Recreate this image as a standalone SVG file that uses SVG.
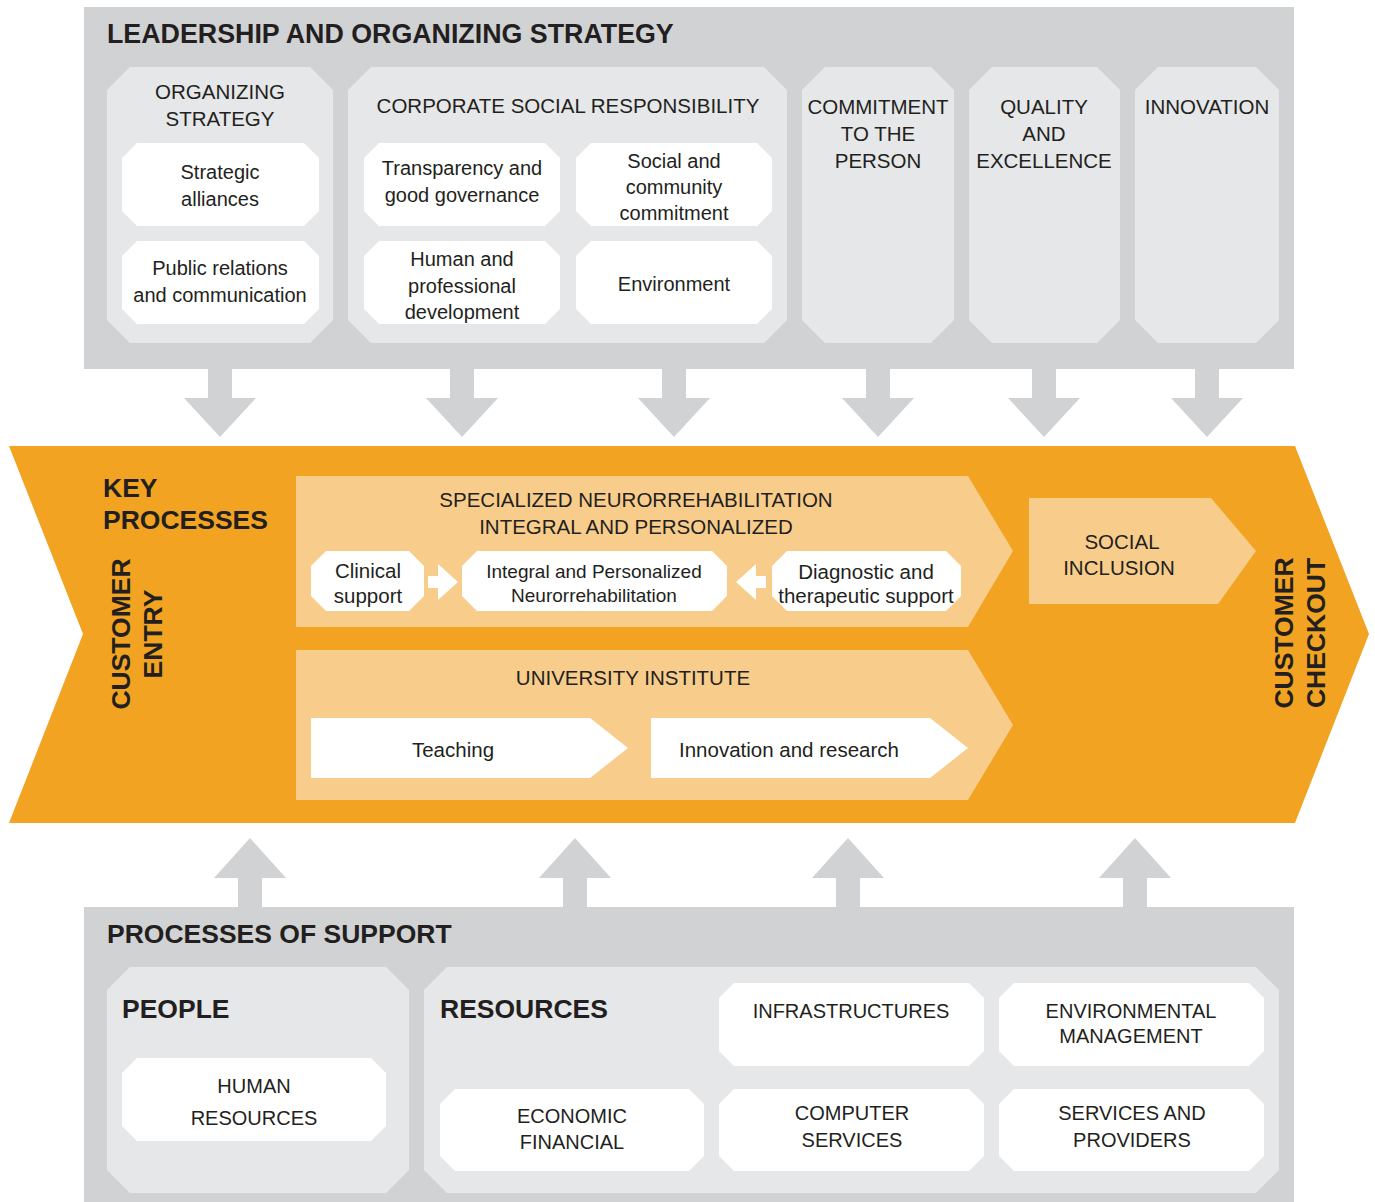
<svg xmlns="http://www.w3.org/2000/svg" width="1375" height="1202" viewBox="0 0 1375 1202">
<style>
.bg{fill:#d1d2d4}
.in{fill:#e6e7e8}
.wh{fill:#ffffff}
.or{fill:#f1a321}
.lo{fill:#f8cd8b}
.ar{fill:#d1d2d4}
text{font-family:"Liberation Sans",Arial,Helvetica,sans-serif;fill:#231f20}
.h{font-weight:bold;font-size:26.5px}
.t{font-size:20.5px;text-anchor:middle}
.s{font-size:20px;text-anchor:middle}
</style>
<rect width="1375" height="1202" fill="#ffffff"/>

<g id="leadership">
<rect class="bg" x="84" y="7" width="1210" height="362"/>
<text class="h" x="107" y="43" style="font-size:26.8px">LEADERSHIP AND ORGANIZING STRATEGY</text>
</g>

<g id="organizing-strategy">
<polygon class="in" points="130,67 310,67 333,90 333,320 310,343 130,343 107,320 107,90"/>
<text class="t" x="220" y="99">ORGANIZING</text>
<text class="t" x="220" y="126">STRATEGY</text>
</g>
<g id="strategic-alliances">
<polygon class="wh" points="137,143 304,143 319,158 319,211 304,226 137,226 122,211 122,158"/>
<text class="s" x="220" y="179">Strategic</text>
<text class="s" x="220" y="206">alliances</text>
</g>
<g id="public-relations">
<polygon class="wh" points="137,241 304,241 319,256 319,309 304,324 137,324 122,309 122,256"/>
<text class="s" x="220" y="275">Public relations</text>
<text class="s" x="220" y="302">and communication</text>
</g>

<g id="csr">
<polygon class="in" points="371,67 764,67 787,90 787,320 764,343 371,343 348,320 348,90"/>
<text class="t" x="568" y="113">CORPORATE SOCIAL RESPONSIBILITY</text>
</g>
<g id="transparency">
<polygon class="wh" points="379,143 545,143 560,158 560,211 545,226 379,226 364,211 364,158"/>
<text class="s" x="462" y="175">Transparency and</text>
<text class="s" x="462" y="202">good governance</text>
</g>
<g id="social-community">
<polygon class="wh" points="591,143 757,143 772,158 772,211 757,226 591,226 576,211 576,158"/>
<text class="s" x="674" y="168">Social and</text>
<text class="s" x="674" y="194">community</text>
<text class="s" x="674" y="220">commitment</text>
</g>
<g id="human-development">
<polygon class="wh" points="379,241 545,241 560,256 560,309 545,324 379,324 364,309 364,256"/>
<text class="s" x="462" y="266">Human and</text>
<text class="s" x="462" y="293">professional</text>
<text class="s" x="462" y="319">development</text>
</g>
<g id="environment">
<polygon class="wh" points="591,241 757,241 772,256 772,309 757,324 591,324 576,309 576,256"/>
<text class="s" x="674" y="291">Environment</text>
</g>

<g id="commitment">
<polygon class="in" points="825,67 931,67 954,90 954,320 931,343 825,343 802,320 802,90"/>
<text class="t" x="878" y="114">COMMITMENT</text>
<text class="t" x="878" y="141">TO THE</text>
<text class="t" x="878" y="168">PERSON</text>
</g>
<g id="quality">
<polygon class="in" points="992,67 1097,67 1120,90 1120,320 1097,343 992,343 969,320 969,90"/>
<text class="t" x="1044" y="114">QUALITY</text>
<text class="t" x="1044" y="141">AND</text>
<text class="t" x="1044" y="168">EXCELLENCE</text>
</g>
<g id="innovation">
<polygon class="in" points="1158,67 1256,67 1279,90 1279,320 1256,343 1158,343 1135,320 1135,90"/>
<text class="t" x="1207" y="114">INNOVATION</text>
</g>

<g id="key-processes">
<polygon class="or" points="9,446 1295,446 1369,634 1295,823 9,823 83,634"/>
<text class="h" x="103" y="497">KEY</text>
<text class="h" x="103" y="529">PROCESSES</text>
<text class="h" text-anchor="middle" transform="translate(130,634) rotate(-90)">CUSTOMER</text>
<text class="h" text-anchor="middle" transform="translate(162,634) rotate(-90)">ENTRY</text>
<text class="h" text-anchor="middle" transform="translate(1293,633) rotate(-90)">CUSTOMER</text>
<text class="h" text-anchor="middle" transform="translate(1325,633) rotate(-90)">CHECKOUT</text>
</g>

<g id="specialized">
<polygon class="lo" points="296,476 968,476 1013,551 968,627 296,627"/>
<text class="t" x="636" y="507">SPECIALIZED NEURORREHABILITATION</text>
<text class="t" x="636" y="534">INTEGRAL AND PERSONALIZED</text>
</g>
<g id="clinical-support">
<polygon class="wh" points="326,551 409,551 424,566 424,596 409,611 326,611 311,596 311,566"/>
<text class="t" x="368" y="578">Clinical</text>
<text class="t" x="368" y="603">support</text>
</g>
<g id="integral-neuro">
<polygon class="wh" points="477,551 712,551 727,566 727,596 712,611 477,611 462,596 462,566"/>
<text style="font-size:19px;text-anchor:middle" x="594" y="578">Integral and Personalized</text>
<text style="font-size:19px;text-anchor:middle" x="594" y="602">Neurorrehabilitation</text>
</g>
<g id="diagnostic">
<polygon class="wh" points="787,551 946,551 961,566 961,596 946,611 787,611 772,596 772,566"/>
<text class="t" x="866" y="579">Diagnostic and</text>
<text class="t" x="866" y="603">therapeutic support</text>
</g>

<g id="university">
<polygon class="lo" points="296,650 968,650 1013,725 968,800 296,800"/>
<text class="t" x="633" y="685">UNIVERSITY INSTITUTE</text>
</g>
<g id="teaching">
<polygon class="wh" points="311,718 590,718 628,748 590,778 311,778"/>
<text class="t" x="453" y="757">Teaching</text>
</g>
<g id="innovation-research">
<polygon class="wh" points="651,718 930,718 968,748 930,778 651,778"/>
<text class="t" x="789" y="757">Innovation and research</text>
</g>

<g id="social-inclusion">
<polygon class="lo" points="1029,498 1211,498 1256,551 1218,604 1029,604"/>
<text class="t" x="1122" y="549">SOCIAL</text>
<text class="t" x="1119" y="575">INCLUSION</text>
</g>

<g id="support">
<rect class="bg" x="84" y="907" width="1210" height="295"/>
<text class="h" x="107" y="943">PROCESSES OF SUPPORT</text>
</g>
<g id="people">
<polygon class="in" points="130,967 386,967 409,990 409,1170 386,1193 130,1193 107,1170 107,990"/>
<text class="h" x="122" y="1018">PEOPLE</text>
</g>
<g id="human-resources">
<polygon class="wh" points="137,1058 371,1058 386,1073 386,1126 371,1141 137,1141 122,1126 122,1073"/>
<text class="s" x="254" y="1093">HUMAN</text>
<text class="s" x="254" y="1125">RESOURCES</text>
</g>
<g id="resources">
<polygon class="in" points="447,967 1256,967 1279,990 1279,1170 1256,1193 447,1193 424,1170 424,990"/>
<text class="h" x="440" y="1018">RESOURCES</text>
</g>
<g id="economic">
<polygon class="wh" points="455,1089 689,1089 704,1104 704,1156 689,1171 455,1171 440,1156 440,1104"/>
<text class="s" x="572" y="1123">ECONOMIC</text>
<text class="s" x="572" y="1149">FINANCIAL</text>
</g>
<g id="infrastructures">
<polygon class="wh" points="734,983 969,983 984,998 984,1051 969,1066 734,1066 719,1051 719,998"/>
<text class="s" x="851" y="1018">INFRASTRUCTURES</text>
</g>
<g id="environmental">
<polygon class="wh" points="1014,983 1249,983 1264,998 1264,1051 1249,1066 1014,1066 999,1051 999,998"/>
<text class="s" x="1131" y="1018">ENVIRONMENTAL</text>
<text class="s" x="1131" y="1043">MANAGEMENT</text>
</g>
<g id="computer">
<polygon class="wh" points="734,1089 969,1089 984,1104 984,1156 969,1171 734,1171 719,1156 719,1104"/>
<text class="s" x="852" y="1120">COMPUTER</text>
<text class="s" x="852" y="1147">SERVICES</text>
</g>
<g id="services">
<polygon class="wh" points="1014,1089 1249,1089 1264,1104 1264,1156 1249,1171 1014,1171 999,1156 999,1104"/>
<text class="s" x="1132" y="1120">SERVICES AND</text>
<text class="s" x="1132" y="1147">PROVIDERS</text>
</g>

<g id="connectors">
<polygon class="ar" points="208,369 232,369 232,398 256,398 220,437 184,398 208,398"/>
<polygon class="ar" points="450,369 474,369 474,398 498,398 462,437 426,398 450,398"/>
<polygon class="ar" points="662,369 686,369 686,398 710,398 674,437 638,398 662,398"/>
<polygon class="ar" points="866,369 890,369 890,398 914,398 878,437 842,398 866,398"/>
<polygon class="ar" points="1032,369 1056,369 1056,398 1080,398 1044,437 1008,398 1032,398"/>
<polygon class="ar" points="1195,369 1219,369 1219,398 1243,398 1207,437 1171,398 1195,398"/>
<polygon class="ar" points="238,907 262,907 262,878 286,878 250,838 214,878 238,878"/>
<polygon class="ar" points="563,907 587,907 587,878 611,878 575,838 539,878 563,878"/>
<polygon class="ar" points="836,907 860,907 860,878 884,878 848,838 812,878 836,878"/>
<polygon class="ar" points="1123,907 1147,907 1147,878 1171,878 1135,838 1099,878 1123,878"/>
<polygon class="wh" points="428,576 438,576 438,564 458,582 438,600 438,588 428,588"/>
<polygon class="wh" points="736,582 756,564 756,576 766,576 766,588 756,588 756,600"/>
</g>
</svg>
